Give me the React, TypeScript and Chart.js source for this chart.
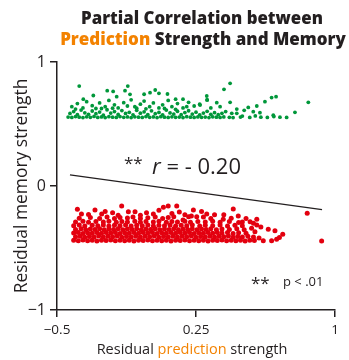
import { useEffect, useRef } from "react";
import { Chart, registerables } from "chart.js";

Chart.register(...registerables);

// ---------- data ----------
const xTicks = [-0.5, 0.25, 1];
const yTicks = [-1, 0, 1];

const titleLine1 = "Partial Correlation between";
const titleLine2Highlight = "Prediction";
const titleLine2Rest = " Strength and Memory";
const xTitleParts = ["Residual ", "prediction", " strength"];
const yTitle = "Residual memory strength";
const corrStars = "**";
const corrText = " = - 0.20";
const corrSymbol = "r";
const sigStars = "**";
const sigText = "p < .01";

// regression line end points
const fitLine = [
  { x: -0.43, y: 0.089 },
  { x: 0.93, y: -0.19 },
];

// high-memory group (green)
const greenPoints: [number, number][] = [
  [-0.44, 0.556], [-0.42, 0.553], [-0.40, 0.560], [-0.38, 0.555], [-0.36, 0.552], [-0.34, 0.558], [-0.32, 0.554], [-0.30, 0.561],
  [-0.28, 0.553], [-0.26, 0.557], [-0.24, 0.552], [-0.22, 0.559], [-0.20, 0.555], [-0.18, 0.553], [-0.16, 0.560], [-0.14, 0.554],
  [-0.12, 0.557], [-0.10, 0.552], [-0.08, 0.558], [-0.06, 0.555], [-0.04, 0.553], [-0.02, 0.560], [0.00, 0.554], [0.02, 0.557],
  [0.04, 0.552], [0.06, 0.559], [0.08, 0.555], [0.10, 0.553], [0.12, 0.558], [0.14, 0.554], [0.16, 0.556], [0.18, 0.552],
  [0.20, 0.559], [0.22, 0.555], [0.24, 0.553], [0.26, 0.557], [0.28, 0.554], [0.30, 0.556], [0.32, 0.552], [0.34, 0.558],
  [0.36, 0.555], [0.38, 0.553], [0.40, 0.557], [0.43, 0.554], [0.45, 0.552], [0.49, 0.556], [0.54, 0.553], [0.57, 0.565],
  [0.60, 0.555], [0.635, 0.553], [0.67, 0.560], [0.703, 0.555], [0.739, 0.553],
  [-0.43, 0.585], [-0.41, 0.600], [-0.39, 0.575], [-0.37, 0.612], [-0.35, 0.590], [-0.33, 0.578], [-0.31, 0.605], [-0.29, 0.583],
  [-0.27, 0.596], [-0.25, 0.572], [-0.23, 0.615], [-0.21, 0.588], [-0.19, 0.600], [-0.17, 0.577], [-0.15, 0.608], [-0.13, 0.585],
  [-0.11, 0.594], [-0.09, 0.574], [-0.07, 0.610], [-0.05, 0.587], [-0.03, 0.598], [-0.01, 0.576], [0.01, 0.606], [0.03, 0.583],
  [0.05, 0.593], [0.07, 0.574], [0.09, 0.612], [0.11, 0.589], [0.13, 0.580], [0.15, 0.603], [0.17, 0.575], [0.19, 0.592],
  [0.21, 0.607], [0.23, 0.580], [0.25, 0.595], [0.27, 0.574], [0.29, 0.588], [0.31, 0.602], [0.33, 0.578], [0.35, 0.591],
  [0.37, 0.575], [0.39, 0.586], [0.41, 0.600], [0.443, 0.586], [0.47, 0.586], [0.50, 0.564], [0.532, 0.634], [0.559, 0.599],
  [0.595, 0.591], [0.667, 0.571], [0.784, 0.594],
  [-0.40, 0.620], [-0.26, 0.625], [-0.08, 0.640], [0.08, 0.625], [0.20, 0.640], [0.33, 0.630], [0.38, 0.640], [0.47, 0.620],
  [0.51, 0.610], [-0.20, 0.628], [-0.02, 0.622], [0.14, 0.618],
  [-0.42, 0.640], [-0.39, 0.665], [-0.36, 0.630], [-0.34, 0.680], [-0.31, 0.648], [-0.29, 0.625], [-0.27, 0.670], [-0.24, 0.640],
  [-0.22, 0.690], [-0.19, 0.655], [-0.17, 0.630], [-0.14, 0.672], [-0.12, 0.645], [-0.10, 0.695], [-0.07, 0.628], [-0.05, 0.660],
  [-0.03, 0.685], [0.00, 0.640], [0.02, 0.670], [0.05, 0.630], [0.07, 0.655], [0.10, 0.690], [0.12, 0.640], [0.15, 0.665],
  [0.18, 0.630], [0.21, 0.675], [0.24, 0.645], [0.27, 0.660], [0.31, 0.694], [0.362, 0.672], [0.272, 0.653], [0.434, 0.675],
  [0.578, 0.645], [0.622, 0.680],
  [-0.38, 0.806], [-0.358, 0.700], [-0.304, 0.730], [-0.229, 0.769], [-0.197, 0.763], [-0.178, 0.720], [-0.133, 0.769],
  [-0.118, 0.806], [-0.106, 0.739], [-0.03, 0.740], [0.002, 0.753], [0.03, 0.774], [0.05, 0.747], [0.096, 0.742], [0.14, 0.700],
  [0.18, 0.700], [0.308, 0.726], [0.31, 0.694], [0.401, 0.780], [0.434, 0.828], [0.658, 0.713], [0.682, 0.720], [0.856, 0.675],
];

// low-memory group (red)
const redPoints: [number, number][] = [
  [-0.41, -0.438], [-0.385, -0.442], [-0.36, -0.436], [-0.335, -0.441], [-0.31, -0.437], [-0.285, -0.443], [-0.26, -0.438],
  [-0.235, -0.440], [-0.21, -0.436], [-0.185, -0.442], [-0.16, -0.438], [-0.135, -0.441], [-0.11, -0.437], [-0.085, -0.443],
  [-0.06, -0.438], [-0.035, -0.440], [-0.01, -0.436], [0.015, -0.442], [0.04, -0.438], [0.065, -0.441], [0.09, -0.437],
  [0.115, -0.443], [0.14, -0.438], [0.165, -0.440], [0.19, -0.436], [0.215, -0.442], [0.24, -0.438], [0.265, -0.441],
  [0.29, -0.437], [0.315, -0.443], [0.34, -0.438], [0.365, -0.440], [0.39, -0.436], [0.415, -0.442], [0.44, -0.438],
  [0.465, -0.441], [0.49, -0.437], [0.515, -0.443], [0.54, -0.438], [0.565, -0.440], [0.613, -0.441], [0.658, -0.441],
  [0.685, -0.430], [0.928, -0.443],
  [-0.40, -0.410], [-0.375, -0.405], [-0.35, -0.413], [-0.325, -0.407], [-0.30, -0.411], [-0.275, -0.404], [-0.25, -0.412],
  [-0.225, -0.406], [-0.20, -0.410], [-0.175, -0.404], [-0.15, -0.413], [-0.125, -0.407], [-0.10, -0.411], [-0.075, -0.405],
  [-0.05, -0.412], [-0.025, -0.406], [0.00, -0.410], [0.025, -0.404], [0.05, -0.413], [0.075, -0.407], [0.10, -0.411],
  [0.125, -0.405], [0.15, -0.412], [0.175, -0.406], [0.20, -0.410], [0.225, -0.404], [0.25, -0.413], [0.275, -0.407],
  [0.30, -0.411], [0.325, -0.405], [0.35, -0.412], [0.375, -0.406], [0.40, -0.410], [0.425, -0.404], [0.45, -0.413],
  [0.475, -0.407], [0.50, -0.411], [0.53, -0.405], [0.56, -0.412], [0.59, -0.420], [0.70, -0.415],
  [-0.41, -0.380], [-0.385, -0.375], [-0.36, -0.383], [-0.335, -0.377], [-0.31, -0.381], [-0.285, -0.374], [-0.26, -0.382],
  [-0.235, -0.376], [-0.21, -0.380], [-0.185, -0.374], [-0.16, -0.383], [-0.135, -0.377], [-0.11, -0.381], [-0.085, -0.375],
  [-0.06, -0.382], [-0.035, -0.376], [-0.01, -0.380], [0.015, -0.374], [0.04, -0.383], [0.065, -0.377], [0.09, -0.381],
  [0.115, -0.375], [0.14, -0.382], [0.165, -0.376], [0.19, -0.380], [0.215, -0.374], [0.24, -0.383], [0.265, -0.377],
  [0.29, -0.381], [0.315, -0.375], [0.34, -0.382], [0.365, -0.376], [0.39, -0.380], [0.42, -0.374], [0.45, -0.383],
  [0.48, -0.377], [0.52, -0.381], [0.568, -0.368], [0.718, -0.390],
  [-0.40, -0.350], [-0.37, -0.345], [-0.345, -0.353], [-0.32, -0.347], [-0.295, -0.351], [-0.27, -0.344], [-0.245, -0.352],
  [-0.22, -0.346], [-0.195, -0.350], [-0.17, -0.344], [-0.145, -0.353], [-0.12, -0.347], [-0.095, -0.351], [-0.07, -0.345],
  [-0.045, -0.352], [-0.02, -0.346], [0.005, -0.350], [0.03, -0.344], [0.055, -0.353], [0.08, -0.347], [0.105, -0.351],
  [0.13, -0.345], [0.155, -0.352], [0.18, -0.346], [0.205, -0.350], [0.23, -0.344], [0.255, -0.353], [0.28, -0.347],
  [0.305, -0.351], [0.33, -0.345], [0.36, -0.352], [0.39, -0.346], [0.43, -0.350], [0.47, -0.344], [0.51, -0.353],
  [0.55, -0.340], [0.64, -0.349], [0.676, -0.360],
  [-0.41, -0.320], [-0.38, -0.315], [-0.35, -0.323], [-0.31, -0.317], [-0.28, -0.321], [-0.25, -0.314], [-0.22, -0.322],
  [-0.19, -0.316], [-0.16, -0.320], [-0.13, -0.314], [-0.10, -0.323], [-0.07, -0.317], [-0.04, -0.321], [-0.01, -0.315],
  [0.02, -0.322], [0.05, -0.316], [0.08, -0.320], [0.11, -0.314], [0.14, -0.323], [0.17, -0.317], [0.20, -0.321],
  [0.23, -0.315], [0.27, -0.322], [0.30, -0.316], [0.34, -0.320], [0.38, -0.314], [0.42, -0.323], [0.46, -0.317],
  [0.50, -0.321], [0.578, -0.315], [0.60, -0.330],
  [-0.40, -0.290], [-0.36, -0.285], [-0.33, -0.293], [-0.29, -0.287], [-0.25, -0.291], [-0.22, -0.284], [-0.18, -0.292],
  [-0.15, -0.286], [-0.12, -0.290], [-0.08, -0.284], [-0.05, -0.293], [-0.02, -0.287], [0.02, -0.291], [0.05, -0.285],
  [0.09, -0.292], [0.12, -0.286], [0.15, -0.290], [0.19, -0.284], [0.22, -0.293], [0.26, -0.287], [0.30, -0.291],
  [0.34, -0.285], [0.38, -0.292], [0.43, -0.286], [0.48, -0.295], [0.542, -0.288], [0.56, -0.300], [0.50, -0.290],
  [-0.38, -0.260], [-0.32, -0.255], [-0.27, -0.263], [-0.23, -0.250], [-0.19, -0.262], [-0.16, -0.254], [-0.12, -0.258],
  [-0.09, -0.250], [-0.05, -0.262], [-0.01, -0.256], [0.03, -0.250], [0.07, -0.262], [0.10, -0.255], [0.13, -0.248],
  [0.18, -0.274], [0.21, -0.247], [0.254, -0.247], [0.29, -0.250], [0.33, -0.262], [0.397, -0.269], [0.44, -0.260],
  [0.578, -0.269], [0.478, -0.242], [0.52, -0.262],
  [-0.33, -0.230], [-0.24, -0.205], [-0.17, -0.235], [-0.05, -0.235], [0.05, -0.195], [0.12, -0.222], [0.19, -0.232],
  [0.28, -0.205], [0.40, -0.232],
  [-0.39, -0.188], [-0.368, -0.226], [-0.295, -0.194], [-0.259, -0.226], [-0.20, -0.215], [-0.151, -0.161], [-0.115, -0.207],
  [-0.079, -0.207], [-0.017, -0.215], [0.02, -0.225], [0.074, -0.172], [0.10, -0.161], [0.146, -0.161], [0.16, -0.210],
  [0.236, -0.194], [0.225, -0.242], [0.308, -0.226], [0.35, -0.232], [0.451, -0.185], [0.85, -0.220],
];

// ---------- styles ----------
const INK = "#231F20";
const ORANGE = "#F38200";
const GREEN = "#00973A";
const RED = "#E3000F";
const FONT = '"Open Sans", sans-serif';

const fmtTick = (v: number) => (v < 0 ? "\u2212" + Math.abs(v) : String(v));

const textPlugin = {
  id: "customTexts",
  afterDraw(chart: any) {
    const ctx: CanvasRenderingContext2D = chart.ctx;
    ctx.save();
    ctx.textBaseline = "alphabetic";
    ctx.textAlign = "left";

    const fitSize = (parts: string[], weight: string, target: number) => {
      ctx.font = `${weight} 20px ${FONT}`;
      const w = parts.reduce((s, p) => s + ctx.measureText(p).width, 0);
      return (20 * target) / w;
    };
    const drawParts = (parts: [string, string][], cx: number, y: number, font: string) => {
      ctx.font = font;
      const total = parts.reduce((s, p) => s + ctx.measureText(p[0]).width, 0);
      let x = cx - total / 2;
      for (const [t, c] of parts) {
        ctx.fillStyle = c;
        ctx.fillText(t, x, y);
        x += ctx.measureText(t).width;
      }
    };

    // title
    const s1 = fitSize([titleLine1], "800", 242);
    drawParts([[titleLine1, INK]], 202, 24, `800 ${s1}px ${FONT}`);
    const s2 = fitSize([titleLine2Highlight, titleLine2Rest], "800", 286);
    drawParts(
      [
        [titleLine2Highlight, ORANGE],
        [titleLine2Rest, INK],
      ],
      203,
      45,
      `800 ${s2}px ${FONT}`
    );

    // x title
    const sx = fitSize(xTitleParts, "normal", 191);
    drawParts(
      [
        [xTitleParts[0], INK],
        [xTitleParts[1], ORANGE],
        [xTitleParts[2], INK],
      ],
      192,
      354,
      `normal ${sx}px ${FONT}`
    );

    // y title
    const sy = fitSize([yTitle], "normal", 215);
    ctx.save();
    ctx.translate(27, 186);
    ctx.rotate(-Math.PI / 2);
    drawParts([[yTitle, INK]], 0, 0, `normal ${sy}px ${FONT}`);
    ctx.restore();

    // correlation annotation
    ctx.fillStyle = INK;
    ctx.font = `normal 17px ${FONT}`;
    ctx.fillText(corrStars, 124, 169);
    ctx.font = `italic 22px ${FONT}`;
    ctx.fillText(corrSymbol, 152, 174);
    const rw = ctx.measureText(corrSymbol).width;
    ctx.font = `normal 22px ${FONT}`;
    ctx.fillText(corrText, 152 + rw, 174);

    // significance note
    ctx.font = `normal 17px ${FONT}`;
    ctx.fillText(sigStars, 251, 289);
    ctx.font = `normal 13px ${FONT}`;
    ctx.fillText(sigText, 283, 286);

    ctx.restore();
  },
};

export default function App() {
  const ref = useRef<HTMLCanvasElement | null>(null);

  useEffect(() => {
    if (!ref.current) return;
    const chart = new Chart(ref.current, {
      type: "scatter",
      data: {
        datasets: [
          {
            data: fitLine,
            showLine: true,
            borderColor: INK,
            borderWidth: 1.2,
            pointRadius: 0,
          } as any,
          {
            data: greenPoints.map(([x, y]) => ({ x, y })),
            backgroundColor: GREEN,
            borderWidth: 0,
            pointRadius: 1.9,
          },
          {
            data: redPoints.map(([x, y]) => ({ x, y })),
            backgroundColor: RED,
            borderWidth: 0,
            pointRadius: 2.5,
          },
        ],
      },
      options: {
        responsive: false,
        animation: false,
        events: [],
        layout: { padding: { top: 62, right: 14, left: 0, bottom: 0 } },
        plugins: {
          legend: { display: false },
          title: { display: false },
          tooltip: { enabled: false },
        },
        scales: {
          x: {
            type: "linear",
            min: -0.5,
            max: 1,
            afterBuildTicks: (s: any) => {
              s.ticks = xTicks.map((v) => ({ value: v }));
            },
            afterFit: (s: any) => {
              s.height = 50;
            },
            ticks: {
              callback: (v: any) => fmtTick(Number(v)),
              font: { family: FONT, size: 13.5 },
              color: INK,
              padding: 5,
              maxRotation: 0,
              autoSkip: false,
            },
            grid: { drawOnChartArea: false, drawTicks: true, tickLength: 7, color: INK, lineWidth: 1.5 },
            border: { display: true, color: INK, width: 1.5 },
          },
          y: {
            type: "linear",
            min: -1,
            max: 1,
            afterBuildTicks: (s: any) => {
              s.ticks = yTicks.map((v) => ({ value: v }));
            },
            afterFit: (s: any) => {
              s.width = 57;
            },
            ticks: {
              callback: (v: any) => fmtTick(Number(v)),
              font: { family: FONT, size: 16 },
              color: INK,
              padding: 4,
              autoSkip: false,
            },
            grid: { drawOnChartArea: false, drawTicks: true, tickLength: 7, color: INK, lineWidth: 1.5 },
            border: { display: true, color: INK, width: 1.5 },
          },
        },
      },
      plugins: [textPlugin],
    });
    return () => chart.destroy();
  }, []);

  return (
    <div style={{ position: "absolute", left: 0, top: 0, width: 349, height: 360, background: "#fff" }}>
      <canvas ref={ref} width={349} height={360} style={{ display: "block", width: 349, height: 360 }} />
    </div>
  );
}
